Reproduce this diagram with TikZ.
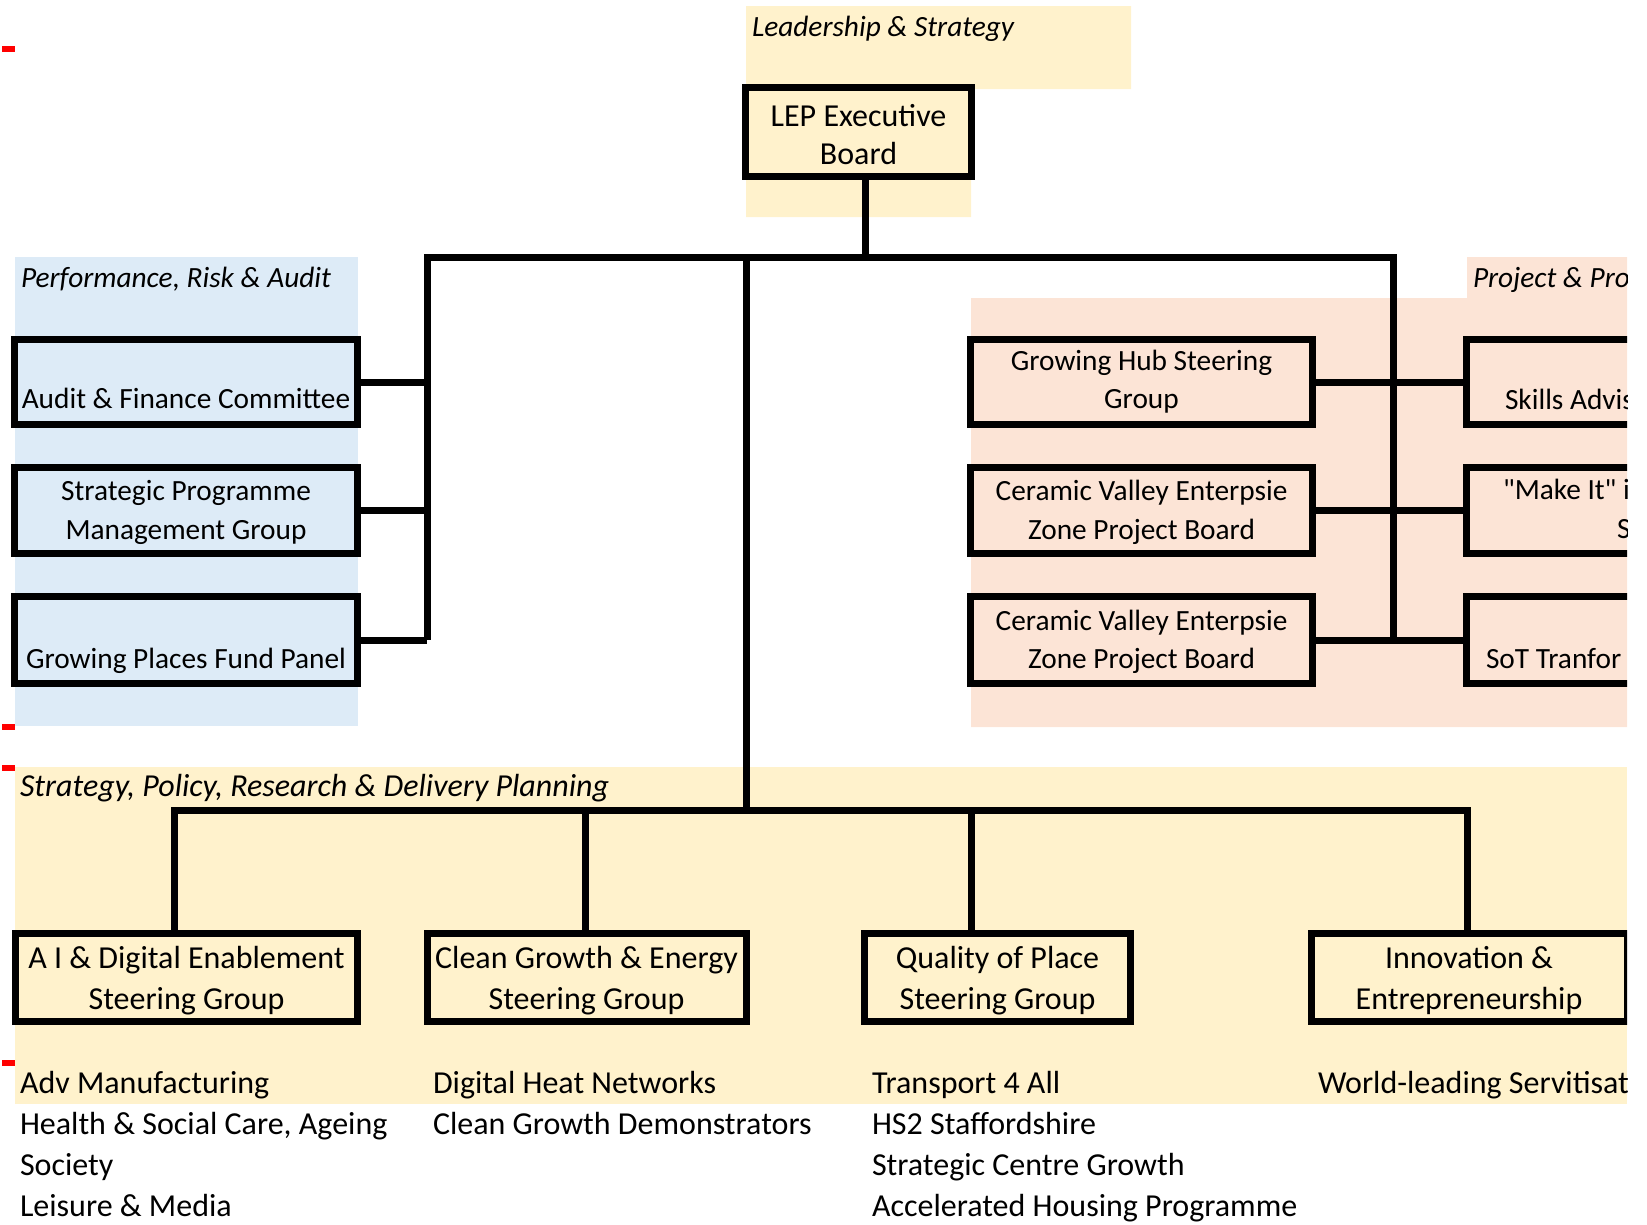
\documentclass[tikz,border=0pt]{standalone}
\usepackage{fontspec}
\setmainfont{Carlito}
\definecolor{leadfill}{RGB}{255,242,204}
\definecolor{perffill}{RGB}{221,235,247}
\definecolor{projfill}{RGB}{252,228,214}
\newcommand{\elevenpt}{\fontsize{29.33pt}{38.5pt}\selectfont}
\newcommand{\twelvept}{\fontsize{32pt}{41pt}\selectfont}
\newcommand{\topgap}[1]{\rule{0pt}{#1}}
\begin{document}
\begin{tikzpicture}[x=1pt, y=-1pt, line width=7pt,
    board/.style={draw, inner sep=0pt, align=center, minimum height=86pt, font=\elevenpt},
    bigboard/.style={board, font=\twelvept},
    band/.style={anchor=base west, inner sep=0pt, font=\elevenpt\itshape},
    item/.style={anchor=base west, inner sep=0pt, font=\twelvept}]
\useasboundingbox (0,0) rectangle (1647,1224);
\foreach \y in {46,724,765,1060}
    \fill[red] (2,\y) rectangle (15,\y+6);
\clip (0,0) rectangle (1627,1224);
\fill[leadfill] (746,6)--(1131,6)--(1131,89)--(971,89)--(971,217)--(746,217)--cycle;
\fill[perffill] (15,257) rectangle (358,726);
\fill[projfill] (971,298)--(1467,298)--(1467,257)--(1627,257)--(1627,727)--(971,727)--cycle;
\fill[leadfill] (15,767) rectangle (1627,1104);
\node[band] (leadlbl) at (748.5,36) {Leadership \& Strategy};
\node[band] (perflbl) at (17.5,287) {Performance, Risk \& Audit};
\node[band] (projlbl) at (1469.5,287) {Project \& Pro};
\node[band, font=\twelvept\itshape] (strlbl) at (16.5,796) {Strategy, Policy, Research \& Delivery Planning};
\node[bigboard, minimum width=226pt, minimum height=85pt, font=\fontsize{32pt}{38pt}\selectfont] (lep) at (858.5,132) {\topgap{39pt}LEP Executive\\Board\strut};
\node[board, minimum width=343pt, minimum height=85pt] (afc) at (186,382) {\strut\\Audit \& Finance Committee\strut};
\node[board, minimum width=343pt] (spmg) at (186,510.5) {\topgap{31pt}Strategic Programme\\Management Group\strut};
\node[board, minimum width=343pt, minimum height=87pt] (gpfp) at (186,640) {\topgap{31pt}\\Growing Places Fund Panel\strut};
\node[board, minimum width=342pt, minimum height=85pt] (ghub) at (1141.5,382) {\strut Growing Hub Steering\\Group\strut};
\node[board, minimum width=342pt] (cvez) at (1141.5,510.5) {\topgap{31pt}Ceramic Valley Enterpsie\\Zone Project Board\strut};
\node[board, minimum width=342pt, minimum height=87pt] (cvezb) at (1141.5,640) {\topgap{31pt}Ceramic Valley Enterpsie\\Zone Project Board\strut};
\node[board, minimum width=343pt, minimum height=85pt] (sap) at (1638,382) {};
\node[board, minimum width=343pt] (makeit) at (1638,510.5) {};
\node[board, minimum width=343pt, minimum height=87pt] (sotc) at (1638,640) {};
\node[band, font=\elevenpt] (saptxt) at (1501.5,409) {Skills Advis};
\node[band, font=\elevenpt] (makeittxt) at (1499.5,499) {\textquotedbl Make It\textquotedbl{} i};
\node[band, font=\elevenpt] (makeittxtb) at (1613.5,538) {S};
\node[band, font=\elevenpt] (sotctxt) at (1482.5,668) {SoT Tranfor};
\node[bigboard, minimum width=342pt] (aide) at (186.5,977.5) {\topgap{35pt}A I \& Digital Enablement\\Steering Group\strut};
\node[bigboard, minimum width=319pt] (cge) at (586.5,977.5) {\topgap{35pt}Clean Growth \& Energy\\Steering Group\strut};
\node[bigboard, minimum width=266pt] (qop) at (997.5,977.5) {\topgap{35pt}Quality of Place\\Steering Group\strut};
\node[bigboard, minimum width=316pt] (inno) at (1469,977.5) {\topgap{35pt}Innovation \&\\Entrepreneurship\strut};
\foreach \t [count=\i from 0] in {Adv Manufacturing, {Health \& Social Care, Ageing}, Society, Leisure \& Media}
    \node[item] (aide\i) at (16.5,1093+41*\i) {\t};
\foreach \t [count=\i from 0] in {Digital Heat Networks, Clean Growth Demonstrators}
    \node[item] (cge\i) at (429.5,1093+41*\i) {\t};
\foreach \t [count=\i from 0] in {Transport 4 All, HS2 Staffordshire, Strategic Centre Growth, Accelerated Housing Programme}
    \node[item] (qop\i) at (868.5,1093+41*\i) {\t};
\node[item] (inno0) at (1314.5,1093) {World-leading Servitisat};
\coordinate (hub) at (865,257);
\coordinate (lspine) at (427,257);
\coordinate (mspine) at (746,257);
\coordinate (rspine) at (1393,257);
\coordinate (adrop) at (174,810);
\coordinate (cdrop) at (585,810);
\coordinate (qdrop) at (971,810);
\coordinate (idrop) at (1467,810);
\draw (lep.south -| hub)--(hub);
\draw (lspine |- gpfp.east)--(lspine)--(rspine)--(rspine |- cvezb.east);
\foreach \n in {afc,spmg,gpfp}
    \draw (\n.east)--(\n.east -| lspine);
\draw (ghub.east)--(sap.west);
\draw (cvez.east)--(makeit.west);
\draw (cvezb.east)--(sotc.west);
\draw (mspine)--(mspine |- adrop);
\draw (adrop |- aide.north)--(adrop)--(idrop)--(idrop |- inno.north);
\draw (cdrop)--(cdrop |- cge.north);
\draw (qdrop)--(qdrop |- qop.north);
\end{tikzpicture}
\end{document}
